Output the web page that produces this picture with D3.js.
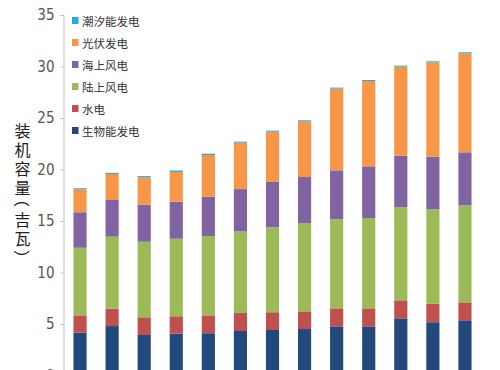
<!DOCTYPE html>
<html>
<head>
<meta charset="utf-8">
<script src="https://cdn.jsdelivr.net/npm/d3@7"></script>
<style>
  html, body { margin: 0; padding: 0; background: #fff; }
  svg { display: block; }
</style>
</head>
<body>
<svg id="chart" width="500" height="370"></svg>
<script>
// ---- data ----
const categories = ["1","2","3","4","5","6","7","8","9","10","11","12","13"];
const seriesNames = ["生物能发电","水电","陆上风电","海上风电","光伏发电","潮汐能发电"];
const biomass  = [4.15,4.80,3.93,4.06,4.10,4.32,4.42,4.51,4.77,4.77,5.55,5.17,5.36];
const hydro    = [1.69,1.69,1.72,1.69,1.74,1.75,1.72,1.72,1.75,1.75,1.75,1.80,1.74];
const onshore  = [6.56,6.99,7.34,7.53,7.70,7.93,8.25,8.55,8.65,8.77,9.03,9.16,9.42];
const offshore = [3.45,3.56,3.59,3.59,3.82,4.10,4.40,4.49,4.75,5.02,5.01,5.11,5.15];
const solar    = [2.23,2.52,2.66,2.89,4.05,4.50,4.88,5.41,7.93,8.28,8.64,9.16,9.60];
const tidal    = [0.10,0.10,0.12,0.14,0.12,0.10,0.10,0.10,0.10,0.10,0.10,0.10,0.11];
const yTicks   = [0,5,10,15,20,25,30,35];
const yLabel   = "装机容量（吉瓦）";

const colors = ["#23487c","#c0504d","#9bbb59","#8064a2","#f79646","#22a9e1"];

// ---- build table ----
const keys = seriesNames;
const arrays = [biomass, hydro, onshore, offshore, solar, tidal];
const table = categories.map((c, i) => {
  const row = { cat: c };
  keys.forEach((k, j) => row[k] = arrays[j][i]);
  return row;
});
const stacked = d3.stack().keys(keys)(table);

const svg = d3.select("#chart");

const x = d3.scaleBand().domain(categories).range([64, 481])
  .paddingInner(0.59).paddingOuter(0.295);
const y = d3.scaleLinear().domain([0, 35]).range([375.5, 15]);
const color = d3.scaleOrdinal().domain(keys).range(colors);

// y axis
const yAxis = svg.append("g")
  .attr("transform", "translate(63.5,0)")
  .call(d3.axisLeft(y).tickValues(yTicks).tickSize(3).tickPadding(6));
yAxis.select(".domain").attr("stroke", "#bfbfbf");
yAxis.selectAll(".tick line").attr("stroke", "#bfbfbf");
yAxis.selectAll(".tick text")
  .attr("fill", "#555")
  .style("font-family", "'Liberation Sans Narrow','Arial Narrow','DejaVu Sans Condensed',sans-serif")
  .style("font-size", "15px");

// bars
svg.append("g").selectAll("g")
  .data(stacked).join("g")
  .attr("fill", d => color(d.key))
  .selectAll("rect")
  .data(d => d).join("rect")
  .attr("x", d => x(d.data.cat))
  .attr("width", x.bandwidth())
  .attr("y", d => y(d[1]))
  .attr("height", d => y(d[0]) - y(d[1]));

// legend (reverse order, top to bottom)
const legendItems = keys.slice().reverse();
const lg = svg.append("g").attr("transform", "translate(72,0)");
legendItems.forEach((k, i) => {
  const cy = 20.5 + i * 22;
  lg.append("rect")
    .attr("x", 0).attr("y", cy - 3.5)
    .attr("width", 6.5).attr("height", 7)
    .attr("fill", color(k));
  lg.append("text")
    .attr("x", 10).attr("y", cy)
    .attr("dominant-baseline", "central")
    .attr("fill", "#333")
    .style("font-family", "'Noto Sans CJK SC',sans-serif")
    .style("font-size", "11.5px")
    .text(k);
});

// y label: stacked vertically, one glyph per line; brackets turned
const chars = Array.from(yLabel);
let pos = 130;
const charPos = chars.map((c, i) => {
  if (i > 0) {
    const isParen = c === "（" || c === "）" || chars[i - 1] === "（" || chars[i - 1] === "）";
    pos += isParen ? 16 : 19;
  }
  let yy = pos;
  if (c === "（") yy -= 4;
  if (c === "）") yy += 4;
  return { c, y: yy, paren: c === "（" || c === "）" };
});
svg.append("g").selectAll("text")
  .data(charPos).join("text")
  .attr("x", 22.5).attr("y", d => d.y)
  .attr("text-anchor", "middle")
  .attr("dominant-baseline", "central")
  .attr("transform", d => d.paren ? `rotate(90,22.5,${d.y})` : null)
  .attr("fill", "#222")
  .style("font-family", "'Noto Sans CJK SC',sans-serif")
  .style("font-size", "16px")
  .text(d => d.c);
</script>
</body>
</html>
